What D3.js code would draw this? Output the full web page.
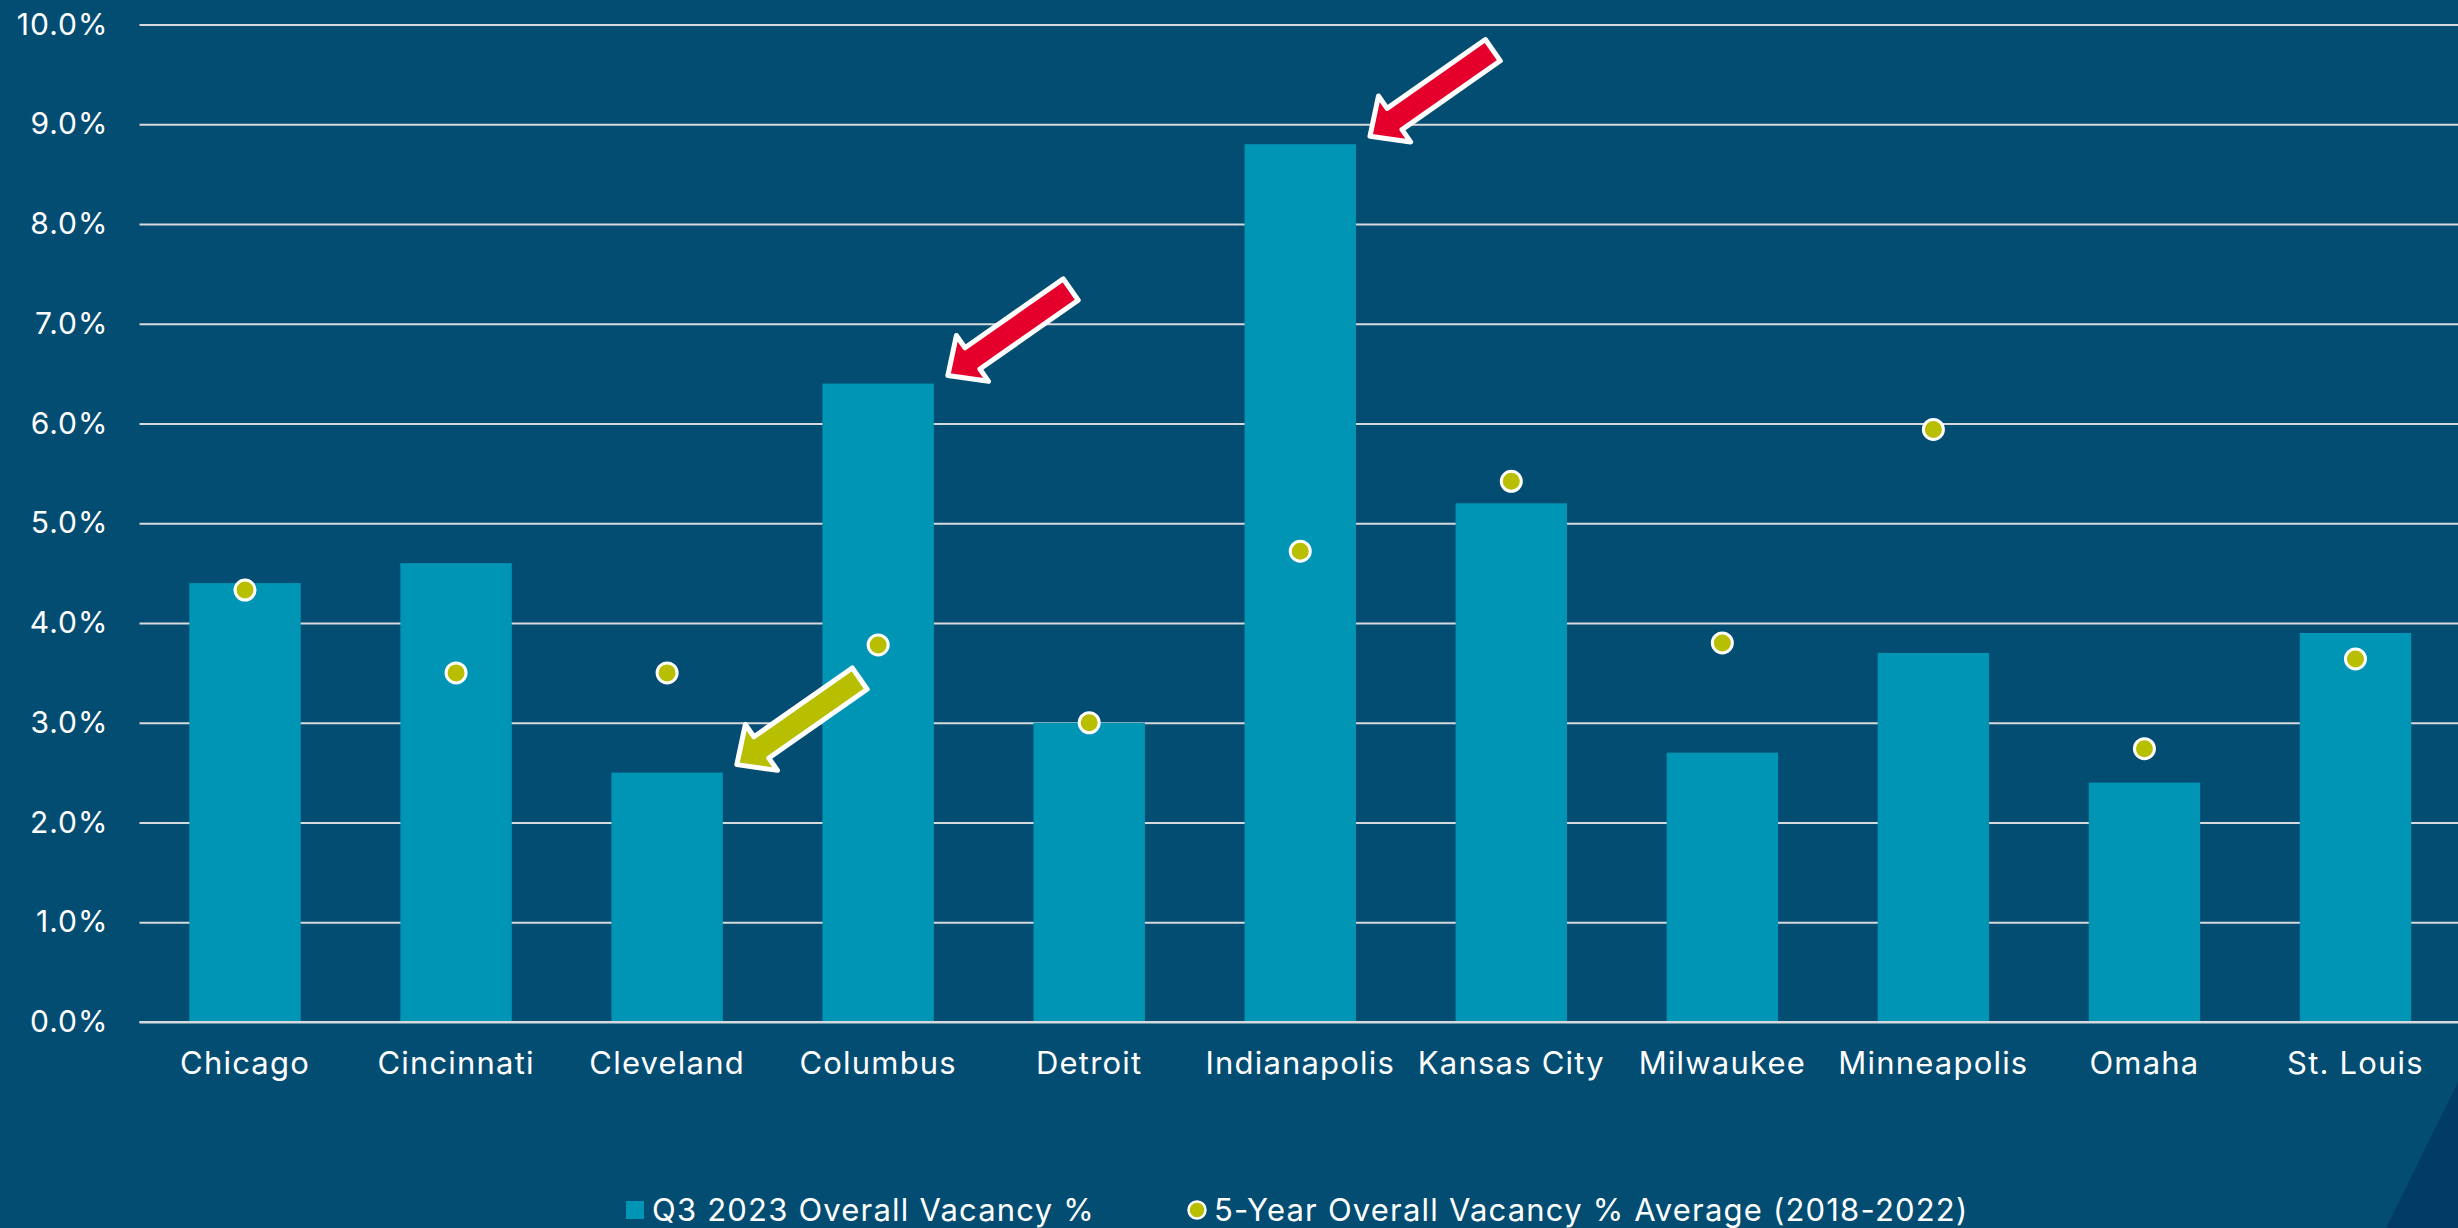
<!DOCTYPE html>
<html>
<head>
<meta charset="utf-8">
<script src="https://cdn.jsdelivr.net/npm/d3@7"></script>
<style>
  html, body { margin: 0; padding: 0; background: #034d72; overflow: hidden; }
  svg { display: block; }
  text { font-family: Inter, "Open Sans", sans-serif; fill: #ffffff; }
</style>
</head>
<body>
<svg id="chart" width="2458" height="1228"></svg>
<script>
// Office vacancy by Midwest market
const cities = ["Chicago", "Cincinnati", "Cleveland", "Columbus", "Detroit", "Indianapolis",
                "Kansas City", "Milwaukee", "Minneapolis", "Omaha", "St. Louis"];
const q3Vacancy = [4.4, 4.6, 2.5, 6.4, 3.0, 8.8, 5.2, 2.7, 3.7, 2.4, 3.9];
const fiveYearAvg = [4.33, 3.5, 3.5, 3.78, 3.0, 4.72, 5.42, 3.8, 5.94, 2.74, 3.64];
const yTicks = [0, 1, 2, 3, 4, 5, 6, 7, 8, 9, 10];
const seriesNames = ["Q3 2023 Overall Vacancy %", "5-Year Overall Vacancy % Average (2018-2022)"];
// Markets called out with arrows
const calloutCities = ["Cleveland", "Columbus", "Indianapolis"];

const W = 2458, H = 1228;
const plot = { left: 139.5, right: 2461, top: 24.5, bottom: 1022 };

const colors = {
  bg: "#034d72",
  corner: "#013c66",
  bar: "#0095b5",
  dot: "#b8be00",
  grid: "#d6dadd",
  up: "#e4002b"
};
const calloutColor = { Cleveland: colors.dot, Columbus: colors.up, Indianapolis: colors.up };

const svg = d3.select("#chart");

svg.append("rect").attr("width", W).attr("height", H).attr("fill", colors.bg);
// darker corner wedge, lower right
svg.append("path")
  .attr("d", `M${W},1082 L2386,${H} L${W},${H} Z`)
  .attr("fill", colors.corner);

const x = d3.scaleBand()
  .domain(cities)
  .range([plot.left, plot.right])
  .paddingInner(0.472)
  .paddingOuter(0.236);

const y = d3.scaleLinear()
  .domain([0, 10])
  .range([plot.bottom, plot.top]);

// gridlines + y tick labels
const yAxis = d3.axisLeft(y)
  .tickValues(yTicks)
  .tickFormat(d => d3.format(".1f")(d) + "%")
  .tickSize(-(W - plot.left))
  .tickPadding(31);

const gy = svg.append("g")
  .attr("transform", `translate(${plot.left},0)`)
  .call(yAxis);
gy.select(".domain").remove();
gy.selectAll(".tick line").attr("stroke", colors.grid).attr("stroke-width", 2);
gy.selectAll(".tick text")
  .attr("font-size", 30)
  .attr("letter-spacing", 1)
  .attr("fill", "#ffffff")
  .attr("font-family", "Inter, 'Open Sans', sans-serif");

// bars
svg.append("g").selectAll("rect")
  .data(cities)
  .join("rect")
  .attr("x", d => x(d))
  .attr("y", (d, i) => y(q3Vacancy[i]))
  .attr("width", x.bandwidth())
  .attr("height", (d, i) => y(0) - y(q3Vacancy[i]))
  .attr("fill", colors.bar);

// zero baseline over the bars
svg.append("line")
  .attr("x1", plot.left).attr("x2", W)
  .attr("y1", y(0)).attr("y2", y(0))
  .attr("stroke", colors.grid).attr("stroke-width", 2);

// x axis labels
const xAxis = d3.axisBottom(x).tickSize(0).tickPadding(30);
const gx = svg.append("g")
  .attr("transform", `translate(0,${plot.bottom})`)
  .call(xAxis);
gx.select(".domain").remove();
gx.selectAll(".tick text")
  .attr("font-size", 31)
  .attr("letter-spacing", 1.2)
  .attr("fill", "#ffffff")
  .attr("font-family", "Inter, 'Open Sans', sans-serif");

// 5-year average markers
svg.append("g").selectAll("circle")
  .data(cities)
  .join("circle")
  .attr("cx", d => x(d) + x.bandwidth() / 2)
  .attr("cy", (d, i) => y(fiveYearAvg[i]))
  .attr("r", 10)
  .attr("fill", colors.dot)
  .attr("stroke", "#ffffff")
  .attr("stroke-width", 3);

// block arrows pointing at the top-right corner of a bar
const headLen = 30, headHalf = 28, shaftHalf = 13, arrowLen = 150;
const arrowPath = `M0,0 L${headLen},${-headHalf} L${headLen},${-shaftHalf} L${arrowLen},${-shaftHalf} ` +
                  `L${arrowLen},${shaftHalf} L${headLen},${shaftHalf} L${headLen},${headHalf} Z`;

svg.append("g").selectAll("path")
  .data(calloutCities)
  .join("path")
  .attr("d", arrowPath)
  .attr("transform", d => {
    const i = cities.indexOf(d);
    const tx = x(d) + x.bandwidth() + 14;
    const ty = y(q3Vacancy[i]) - 8;
    return `translate(${tx},${ty}) rotate(-35)`;
  })
  .attr("fill", d => calloutColor[d])
  .attr("stroke", "#ffffff")
  .attr("stroke-width", 5)
  .attr("stroke-linejoin", "round");

// legend
const legend = svg.append("g").attr("font-size", 31);
legend.append("rect")
  .attr("x", 626).attr("y", 1201).attr("width", 18).attr("height", 18)
  .attr("fill", colors.bar);
legend.append("text")
  .attr("x", 652).attr("y", 1221)
  .attr("letter-spacing", 1.2)
  .text(seriesNames[0]);
legend.append("circle")
  .attr("cx", 1197).attr("cy", 1210).attr("r", 8.5)
  .attr("fill", colors.dot).attr("stroke", "#ffffff").attr("stroke-width", 2.5);
legend.append("text")
  .attr("x", 1214).attr("y", 1221)
  .attr("letter-spacing", 1.2)
  .text(seriesNames[1]);
</script>
</body>
</html>
